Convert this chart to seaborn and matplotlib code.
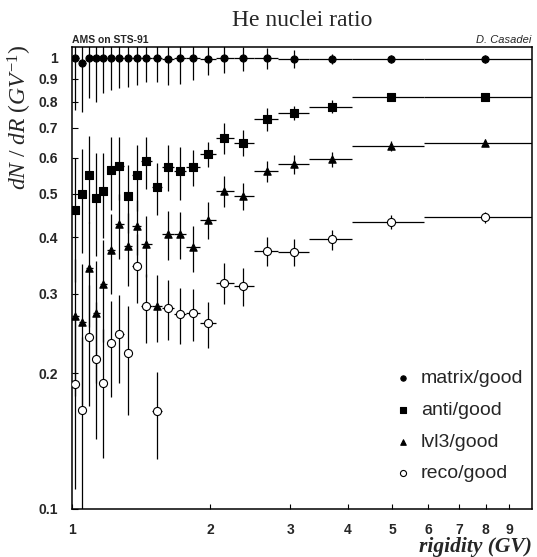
import numpy as np
import pandas as pd
import matplotlib
matplotlib.use("Agg")
import matplotlib.pyplot as plt
import seaborn as sns

# ---------------- data ----------------
rigidity = [1.015, 1.053, 1.091, 1.128, 1.170, 1.217, 1.268, 1.323, 1.384, 1.453, 1.531,
            1.618, 1.721, 1.834, 1.978, 2.147, 2.366, 2.662, 3.058, 3.696, 4.972, 7.976]
bin_low = [1.000, 1.034, 1.072, 1.110, 1.150, 1.194, 1.243, 1.296, 1.354, 1.418, 1.492,
           1.574, 1.669, 1.777, 1.906, 2.061, 2.255, 2.497, 2.817, 3.292, 4.087, 5.870]
bin_high = [1.034, 1.072, 1.110, 1.150, 1.194, 1.243, 1.296, 1.354, 1.418, 1.492, 1.574,
            1.669, 1.777, 1.906, 2.061, 2.255, 2.497, 2.817, 3.292, 4.087, 5.870, 10.84]

matrix_good = [1.000, 0.975, 1.000, 1.000, 1.000, 1.000, 1.000, 1.000, 1.000, 1.000, 1.000,
               0.993, 1.000, 1.000, 0.993, 1.000, 0.997, 0.997, 0.995, 0.995, 0.995, 0.995]
matrix_err = [0.233, 0.215, 0.186, 0.200, 0.165, 0.151, 0.143, 0.136, 0.129, 0.114, 0.114,
              0.122, 0.124, 0.106, 0.076, 0.072, 0.060, 0.053, 0.046, 0.027, 0.022, 0.019]

anti_good = [0.459, 0.499, 0.550, 0.489, 0.507, 0.564, 0.577, 0.494, 0.550, 0.591, 0.516,
             0.574, 0.560, 0.572, 0.612, 0.664, 0.649, 0.731, 0.756, 0.780, 0.817, 0.819]
anti_err = [0.140, 0.130, 0.120, 0.126, 0.108, 0.105, 0.092, 0.085, 0.092, 0.078, 0.068,
            0.068, 0.076, 0.053, 0.040, 0.052, 0.043, 0.043, 0.027, 0.027, 0.015, 0.015]

lvl3_good = [0.268, 0.260, 0.343, 0.272, 0.315, 0.375, 0.428, 0.382, 0.425, 0.386, 0.282,
             0.407, 0.407, 0.380, 0.437, 0.507, 0.494, 0.560, 0.581, 0.596, 0.638, 0.649]
lvl3_err = [0.090, 0.090, 0.090, 0.082, 0.080, 0.075, 0.070, 0.070, 0.060, 0.060, 0.048,
            0.050, 0.048, 0.045, 0.041, 0.040, 0.035, 0.030, 0.028, 0.022, 0.015, 0.012]

reco_good = [0.189, 0.166, 0.241, 0.215, 0.190, 0.233, 0.244, 0.2215, 0.346, 0.282, 0.165,
             0.279, 0.2706, 0.272, 0.258, 0.3177, 0.312, 0.373, 0.371, 0.396, 0.433, 0.443]
reco_err = [0.078, 0.075, 0.072, 0.072, 0.060, 0.056, 0.054, 0.060, 0.060, 0.049, 0.036,
            0.042, 0.038, 0.036, 0.030, 0.033, 0.030, 0.027, 0.025, 0.020, 0.015, 0.012]

series_names = ["matrix/good", "anti/good", "lvl3/good", "reco/good"]
series_vals = [matrix_good, anti_good, lvl3_good, reco_good]
series_errs = [matrix_err, anti_err, lvl3_err, reco_err]

y_ticks = [0.1, 0.2, 0.3, 0.4, 0.5, 0.6, 0.7, 0.8, 0.9, 1.0]
y_ticklabels = ["0.1", "0.2", "0.3", "0.4", "0.5", "0.6", "0.7", "0.8", "0.9", "1"]
x_ticks = [1, 2, 3, 4, 5, 6, 7, 8, 9]
x_ticklabels = ["1", "2", "3", "4", "5", "6", "7", "8", "9"]

# ---------------- styling ----------------
sns.set_style("ticks")
plt.rcParams["font.family"] = ["Liberation Sans", "DejaVu Sans"]
plt.rcParams["mathtext.fontset"] = "custom"
plt.rcParams["mathtext.rm"] = "Liberation Serif"
plt.rcParams["mathtext.it"] = "Liberation Serif:italic"
plt.rcParams["mathtext.bf"] = "Liberation Serif:bold"

marker_style = {
    "matrix/good": dict(marker="o", facecolor="black", s=26),
    "anti/good": dict(marker="s", facecolor="black", s=26),
    "lvl3/good": dict(marker="^", facecolor="black", s=28),
    "reco/good": dict(marker="o", facecolor="white", s=34),
}

fig = plt.figure(figsize=(5.37, 5.57), dpi=100)
ax = fig.add_axes([0.134, 0.0862, 0.8566, 0.8294])

x = np.array(rigidity)
xlo = x - np.array(bin_low)
xhi = np.array(bin_high) - x

for name, vals, errs in zip(series_names, series_vals, series_errs):
    df = pd.DataFrame({"rigidity": rigidity, "ratio": vals})
    ax.errorbar(x, vals, yerr=errs, xerr=[xlo, xhi], fmt="none",
                ecolor="black", elinewidth=0.9, capsize=0, zorder=2)
    st = marker_style[name]
    sns.scatterplot(data=df, x="rigidity", y="ratio", ax=ax, marker=st["marker"],
                    color=st["facecolor"], edgecolor="black", linewidth=0.8,
                    s=st["s"], label=name, zorder=3)

ax.set_xscale("log")
ax.set_yscale("log")
ax.set_xlim(1.0, 10.1)
ax.set_ylim(0.1, 1.057)

ax.set_xticks(x_ticks)
ax.set_xticklabels(x_ticklabels)
ax.set_yticks(y_ticks)
ax.set_yticklabels(y_ticklabels)
ax.minorticks_off()
ax.tick_params(axis="both", which="major", direction="in", labelsize=10,
               width=0.8, color="black")
ax.tick_params(axis="y", length=4, pad=10)
ax.tick_params(axis="x", length=3.5, pad=10)
for lab in ax.get_xticklabels() + ax.get_yticklabels():
    lab.set_fontweight("bold")
ax.set_xlabel("")
ax.set_ylabel("")
for sp in ax.spines.values():
    sp.set_visible(True)
    sp.set_linewidth(1.1)
    sp.set_color("black")

leg = ax.legend(loc="upper left", bbox_to_anchor=(0.682, 0.318), frameon=False,
                fontsize=14, markerscale=0.75, handlelength=1.0,
                handletextpad=0.42, labelspacing=0.72, borderaxespad=0.0)

fig.text(0.562, 1 - 20 / 557, "He nuclei ratio", family="Liberation Serif",
         fontsize=17, ha="center", va="center")
fig.text(72 / 537, 1 - 47 / 557 + 0.003, "AMS on STS-91", fontsize=7.5,
         fontweight="bold", ha="left", va="bottom")
fig.text(531 / 537, 1 - 47 / 557 + 0.003, "D. Casadei", fontsize=8,
         style="italic", ha="right", va="bottom")
fig.text(20 / 537, 1 - 45 / 557, r"$dN\ /\ dR\ (GV^{-1})$", rotation=90,
         fontsize=17, ha="center", va="top")
fig.text(532 / 537, 1 - 547 / 557, "rigidity (GV)", family="Liberation Serif",
         style="italic", fontweight="bold", fontsize=15.5, ha="right", va="center")

fig.savefig("out.png", dpi=100)
